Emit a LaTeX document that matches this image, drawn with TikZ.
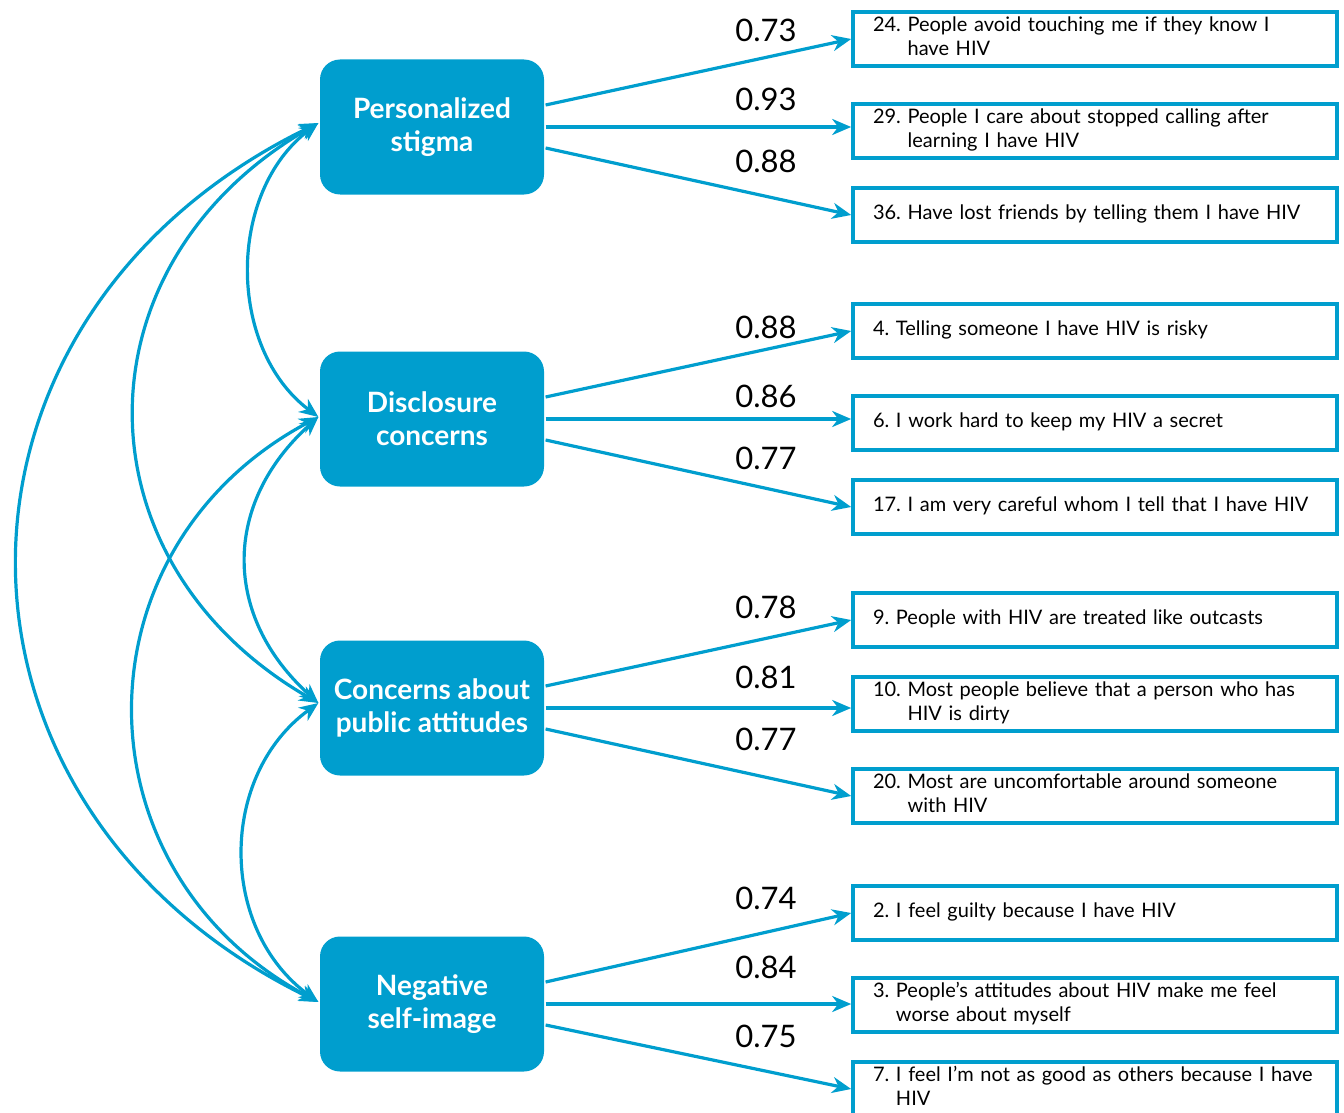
\documentclass[tikz,border=0pt]{standalone}
\usepackage{fontspec}
\setmainfont{Lato}
\usepackage{xcolor}
\usetikzlibrary{positioning, arrows.meta, calc}

\definecolor{hivblue}{RGB}{0,158,206}
\newcommand{\qitem}[2]{\begin{tabular}{@{}l@{\ }l@{}}#1 & #2\end{tabular}}

\begin{document}
\begin{tikzpicture}[
    x=0.5pt, y=-0.5pt,
    line width=1.6pt,
    factor/.style={fill=hivblue, rectangle, rounded corners=10pt, minimum width=112pt, minimum height=67.5pt, align=center, text=white, font=\fontsize{14}{16.5}\selectfont\bfseries},
    indicator/.style={draw=hivblue, line width=1.8pt, rectangle, minimum height=27pt, text width=222pt, inner xsep=10pt, inner ysep=1pt, align=left, font=\fontsize{10}{12}\selectfont},
    loading/.style={font=\fontsize{15.5}{18}\selectfont},
    link/.style={draw=hivblue, -{Stealth[length=9.5pt, width=8pt, inset=3pt]}},
    corr/.style={draw=hivblue, {Stealth[length=9.5pt, width=8pt, inset=3pt]}-{Stealth[length=9.5pt, width=8pt, inset=3pt]}}
]
    \useasboundingbox (0,0) rectangle (1344,1113);

    % Factors
    \node[factor] (f1) at (432,127) {Personalized\\stigma};
    \node[factor] (f2) at (432,419) {Disclosure\\concerns};
    \node[factor] (f3) at (432,708) {Concerns about\\public attitudes};
    \node[factor] (f4) at (432,1004) {Negative\\self-image};

    % Items
    \node[indicator] (i24) at (1095,39) {\qitem{24.}{People avoid touching me if they know I\\ & have HIV}};
    \node[indicator] (i29) at (1095,131) {\qitem{29.}{People I care about stopped calling after\\ & learning I have HIV}};
    \node[indicator] (i36) at (1095,215) {\qitem{36.}{Have lost friends by telling them I have HIV}};

    \node[indicator] (i4) at (1095,331) {\qitem{4.}{Telling someone I have HIV is risky}};
    \node[indicator] (i6) at (1095,423) {\qitem{6.}{I work hard to keep my HIV a secret}};
    \node[indicator] (i17) at (1095,507) {\qitem{17.}{I am very careful whom I tell that I have HIV}};

    \node[indicator] (i9) at (1095,620) {\qitem{9.}{People with HIV are treated like outcasts}};
    \node[indicator] (i10) at (1095,704) {\qitem{10.}{Most people believe that a person who has\\ & HIV is dirty}};
    \node[indicator] (i20) at (1095,796) {\qitem{20.}{Most are uncomfortable around someone\\ & with HIV}};

    \node[indicator] (i2) at (1095,913) {\qitem{2.}{I feel guilty because I have HIV}};
    \node[indicator] (i3) at (1095,1005) {\qitem{3.}{People’s attitudes about HIV make me feel\\ & worse about myself}};
    \node[indicator] (i7) at (1095,1089) {\qitem{7.}{I feel I’m not as good as others because I have\\ & HIV}};

    % Loadings
    \draw[link] ([yshift=11pt]f1.east) -- (i24.west);
    \draw[link] (f1.east) -- (f1.east -| i29.west);
    \draw[link] ([yshift=-10.5pt]f1.east) -- (i36.west);
    \node[loading] (w24) at (766,30) {0.73};
    \node[loading] (w29) at (766,99) {0.93};
    \node[loading] (w36) at (766,161) {0.88};

    \draw[link] ([yshift=11pt]f2.east) -- (i4.west);
    \draw[link] (f2.east) -- (f2.east -| i6.west);
    \draw[link] ([yshift=-10.5pt]f2.east) -- (i17.west);
    \node[loading] (w4) at (766,327) {0.88};
    \node[loading] (w6) at (766,396) {0.86};
    \node[loading] (w17) at (766,458) {0.77};

    \draw[link] ([yshift=11pt]f3.east) -- (i9.west);
    \draw[link] (f3.east) -- (f3.east -| i10.west);
    \draw[link] ([yshift=-10.5pt]f3.east) -- (i20.west);
    \node[loading] (w9) at (766,607) {0.78};
    \node[loading] (w10) at (766,677) {0.81};
    \node[loading] (w20) at (766,739) {0.77};

    \draw[link] ([yshift=11pt]f4.east) -- (i2.west);
    \draw[link] (f4.east) -- (f4.east -| i3.west);
    \draw[link] ([yshift=-10.5pt]f4.east) -- (i7.west);
    \node[loading] (w2) at (766,898) {0.74};
    \node[loading] (w3) at (766,967) {0.84};
    \node[loading] (w7) at (766,1036) {0.75};

    % Correlations between factors
    \coordinate (f1w) at ([yshift=2pt]f1.west);
    \coordinate (f2w) at ([yshift=1pt]f2.west);
    \coordinate (f3w) at ([yshift=2.5pt]f3.west);
    \coordinate (f4w) at ([yshift=1pt]f4.west);

    \draw[corr] (f1w) to[out=217, in=143, looseness=1.0] (f2w);
    \draw[corr] (f1w) to[out=210, in=150, looseness=1.25] (f3w);
    \draw[corr] (f1w) to[out=206, in=154, looseness=1.3] (f4w);
    \draw[corr] (f2w) to[out=222, in=138, looseness=1.16] (f3w);
    \draw[corr] (f2w) to[out=208, in=152, looseness=1.22] (f4w);
    \draw[corr] (f3w) to[out=216, in=144, looseness=1.06] (f4w);

\end{tikzpicture}
\end{document}
